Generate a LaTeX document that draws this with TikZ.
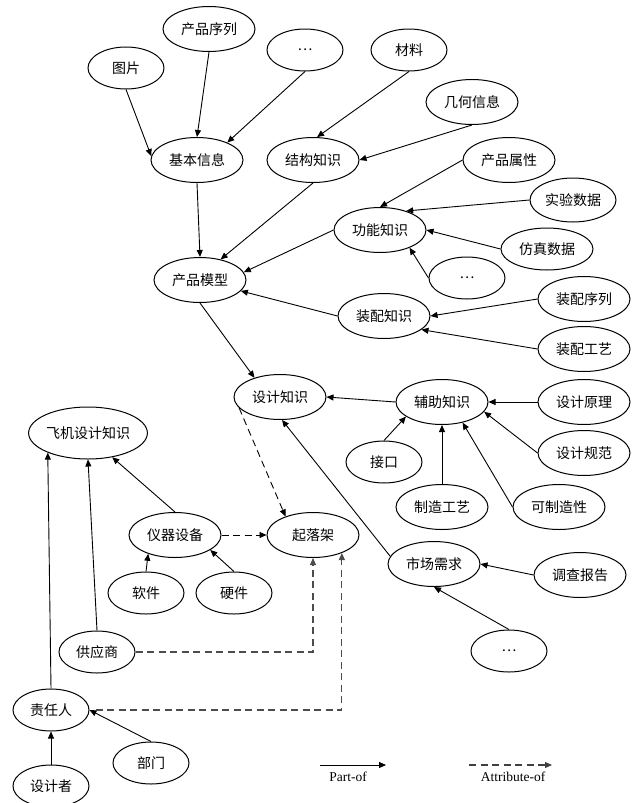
\documentclass[tikz,border=0pt]{standalone}
\usepackage{fontspec}
\setmainfont{Liberation Serif}
\newfontfamily\cjk{Noto Sans CJK SC}
\usetikzlibrary{shapes.geometric,arrows.meta}
\tikzset{
  ent/.style={ellipse,draw,line width=1pt,inner sep=0pt,minimum width=92pt,minimum height=45pt,
    font=\cjk\fontsize{14}{16}\selectfont},
  sment/.style={ent,minimum width=76pt,minimum height=42pt},
  partof/.style={-{Triangle[length=7pt,width=6pt]},line width=0.9pt},
  attrof/.style={partof,dash pattern=on 7pt off 4.5pt},
  legtext/.style={font=\fontsize{13.5}{15}\selectfont,inner sep=1pt}
}
\begin{document}
\begin{tikzpicture}[x=1pt,y=-1pt]
        \useasboundingbox (0,0) rectangle (636,803);
        % product model
        \node[sment] (tupian) at (126,68) {图片};
        \node[ent] (xulie) at (209,29) {产品序列};
        \node[sment] (dotsa) at (305,50) {…};
        \node[sment] (cailiao) at (409,50) {材料};
        \node[ent] (jihe) at (472,102) {几何信息};
        \node[ent] (jiben) at (197,160) {基本信息};
        \node[ent] (jiegou) at (313,160) {结构知识};
        \node[ent] (shuxing) at (509,160) {产品属性};
        \node[ent,minimum width=86pt,minimum height=44pt] (shiyan) at (573,200) {实验数据};
        \node[ent] (gongneng) at (380,230) {功能知识};
        \node[ent,minimum height=42pt] (fangzhen) at (547,249) {仿真数据};
        \node[ent] (moxing) at (200,280) {产品模型};
        \node[sment] (dotsb) at (467,278) {…};
        \node[ent] (zpxulie) at (584,299) {装配序列};
        \node[ent] (zhuangpei) at (384,316) {装配知识};
        \node[ent] (zpgongyi) at (584,349) {装配工艺};
        % design knowledge
        \node[ent] (sheji) at (280,397) {设计知识};
        \node[ent] (fuzhu) at (442,402) {辅助知识};
        \node[ent] (yuanli) at (584,402) {设计原理};
        \node[sment] (jiekou) at (384,462) {接口};
        \node[ent] (guifan) at (584,453) {设计规范};
        \node[ent] (zhizao) at (442,507) {制造工艺};
        \node[ent] (kezhizao) at (559,507) {可制造性};
        \node[ent] (shichang) at (434,564) {市场需求};
        \node[ent] (diaocha) at (580,575) {调查报告};
        \node[sment] (dotsc) at (509,651) {…};
        % aircraft design knowledge
        \node[ent,minimum width=117pt,minimum height=52pt] (feiji) at (88,433) {飞机设计知识};
        \node[ent] (yiqi) at (175,535) {仪器设备};
        \node[ent] (qiluojia) at (313,535) {起落架};
        \node[sment] (ruanjian) at (146,593) {软件};
        \node[sment] (yingjian) at (234,593) {硬件};
        \node[sment] (gongying) at (97,652) {供应商};
        \node[sment] (zeren) at (51,710) {责任人};
        \node[sment] (bumen) at (151,763) {部门};
        \node[sment] (shejizhe) at (51,786) {设计者};
        % part-of
        \draw[partof] (tupian.south) -- (jiben.175);
        \draw[partof] (xulie.south) -- (jiben.north);
        \draw[partof] (dotsa.south) -- (jiben.30);
        \draw[partof] (cailiao.south) -- (jiegou.80);
        \draw[partof] (jihe.south) -- (jiegou.east);
        \draw[partof] (jiben.south) -- (moxing.north);
        \draw[partof] (jiegou.south) -- (moxing.45);
        \draw[partof] (gongneng.west) -- (moxing.10);
        \draw[partof] (shuxing.west) -- (gongneng.north);
        \draw[partof] (shiyan.west) -- (gongneng.36);
        \draw[partof] (fangzhen.west) -- (gongneng.east);
        \draw[partof] (dotsb.west) -- (gongneng.-31);
        \draw[partof] (zhuangpei.west) -- (moxing.-15);
        \draw[partof] (zpxulie.west) -- (zhuangpei.east);
        \draw[partof] (zpgongyi.west) -- (zhuangpei.-20);
        \draw[partof] (moxing.south) -- (sheji.143);
        \draw[partof] (fuzhu.west) -- (sheji.east);
        \draw[partof] (yuanli.west) -- (fuzhu.east);
        \draw[partof] (jiekou.north) -- (fuzhu.202);
        \draw[partof] (guifan.west) -- (fuzhu.-13);
        \draw[partof] (zhizao.north) -- (fuzhu.south);
        \draw[partof] (kezhizao.west) -- (fuzhu.-45);
        \draw[partof] (shichang.170) -- (sheji.-85);
        \draw[partof] (diaocha.west) -- (shichang.east);
        \draw[partof] (dotsc.north) -- (shichang.south);
        \draw[partof] (yiqi.north) -- (feiji.-45);
        \draw[partof] (gongying.north) -- (feiji.south);
        \draw[partof] (zeren.north) -- (feiji.206);
        \draw[partof] (ruanjian.north) -- (yiqi.215);
        \draw[partof] (yingjian.north) -- (yiqi.-23);
        \draw[partof] (shejizhe.north) -- (zeren.south);
        \draw[partof] (bumen.north) -- (zeren.east);
        % attribute-of
        \draw[attrof] (sheji.195) -- (qiluojia.146);
        \draw[attrof] (yiqi.east) -- (qiluojia.west);
        \draw[attrof,black!70,line width=1.1pt] (gongying.east) -| (qiluojia.south);
        \draw[attrof,black!70,line width=1.1pt] ([xshift=6pt]zeren.east) -| (qiluojia.-32);
        % legend
        \node[legtext] (ptxt) at (348,777) {Part-of};
        \node[legtext] (atxt) at (513,777) {Attribute-of};
        \coordinate (pa) at (320,765);
        \coordinate (pb) at (386,765);
        \coordinate (aa) at (469,765);
        \coordinate (ab) at (552,765);
        \draw[partof] (pa) -- (pb);
        \draw[attrof,black!75,line width=1.1pt] (aa) -- (ab);
    \end{tikzpicture}
\end{document}
